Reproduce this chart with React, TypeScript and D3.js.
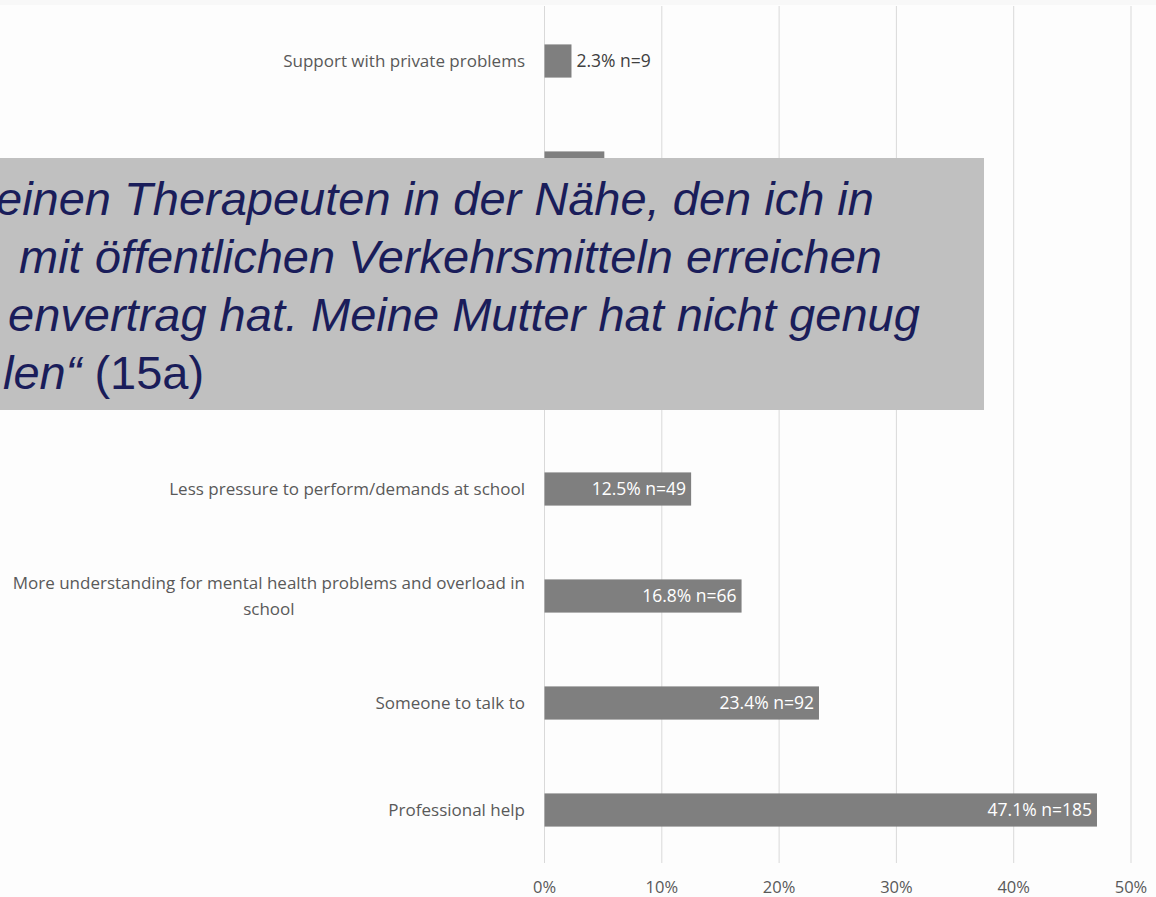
import React, { useEffect, useRef } from 'react'
import * as d3 from 'd3'

// bars, top to bottom (rows 2-4 sit behind the quote box in the picture)
const categories = [
  'Support with private problems',
  'row2',
  'row3',
  'row4',
  'Less pressure to perform/demands at school',
  'More understanding for mental health problems and overload in school',
  'Someone to talk to',
  'Professional help',
]
const labels = [
  'Support with private problems',
  '',
  '',
  '',
  'Less pressure to perform/demands at school',
  'More understanding for mental health problems and overload in school',
  'Someone to talk to',
  'Professional help',
]
const percents = [2.3, 5.1, 7.4, 9.7, 12.5, 16.8, 23.4, 47.1]
const counts = [9, 20, 29, 38, 49, 66, 92, 185]
const tickValues = [0, 10, 20, 30, 40, 50]

// the quote overlay
const quoteLines = [
  'einen Therapeuten in der Nähe, den ich in',
  'mit öffentlichen Verkehrsmitteln erreichen',
  'envertrag hat. Meine Mutter hat nicht genug',
  'len“',
]
const quoteSource = ' (15a)'
const quoteX = [-4, 19, 8, 3]

const W = 1156
const H = 897

function wrapLabel(text: string, maxChars: number) {
  const words = text.split(' ')
  const lines: string[] = []
  let cur = ''
  words.forEach(w => {
    const next = cur ? cur + ' ' + w : w
    if (next.length > maxChars && cur) {
      lines.push(cur)
      cur = w
    } else cur = next
  })
  if (cur) lines.push(cur)
  return lines
}

function Chart() {
  const ref = useRef<SVGSVGElement>(null)

  useEffect(() => {
    const svg = d3.select(ref.current)
    svg.selectAll('*').remove()

    const x = d3.scaleLinear().domain([0, 50]).range([544.5, 1131])
    const y = d3.scaleBand().domain(categories).range([7.5, 863.5]).paddingInner(0.69).paddingOuter(0.345)

    svg.append('rect').attr('width', W).attr('height', H).attr('fill', '#fdfdfd')
    svg.append('rect').attr('width', W).attr('height', 5).attr('fill', '#f8f8f8')

    // gridlines
    svg.append('g').selectAll('line').data(tickValues).join('line')
      .attr('x1', d => x(d)).attr('x2', d => x(d))
      .attr('y1', 6).attr('y2', 863)
      .attr('stroke', '#d9d9d9').attr('stroke-width', 1)

    // tick labels
    svg.append('g').selectAll('text').data(tickValues).join('text')
      .attr('x', d => x(d)).attr('y', 893)
      .attr('text-anchor', 'middle')
      .style('font-family', '"Open Sans", sans-serif')
      .style('font-size', '16.5px')
      .attr('fill', '#595959')
      .text(d => d + '%')

    // bars
    const rows = categories.map((c, i) => ({ key: c, label: labels[i], pct: percents[i], n: counts[i] }))
    svg.append('g').selectAll('rect').data(rows).join('rect')
      .attr('x', x(0))
      .attr('y', d => y(d.key)!)
      .attr('width', d => x(d.pct) - x(0))
      .attr('height', y.bandwidth())
      .attr('fill', '#7f7f7f')

    // value labels (only rows that are not hidden by the quote box)
    const shown = rows.filter(d => d.label)
    const vals = svg.append('g').selectAll('text').data(shown).join('text')
      .attr('y', d => y(d.key)! + y.bandwidth() / 2)
      .attr('dy', '0.35em')
      .style('font-family', '"Open Sans", sans-serif')
      .style('font-size', '17.5px')
      .text(d => `${d.pct.toFixed(1)}% n=${d.n}`)
    vals.each(function (d) {
      const t = d3.select(this)
      const w = (this as SVGTextElement).getComputedTextLength()
      const barW = x(d.pct) - x(0)
      if (barW > w + 12) {
        t.attr('x', x(d.pct) - 5).attr('text-anchor', 'end').attr('fill', '#ffffff')
      } else {
        t.attr('x', x(d.pct) + 5).attr('text-anchor', 'start').attr('fill', '#404040')
      }
    })

    // category labels
    const labelRight = 525
    shown.forEach(d => {
      const lines = wrapLabel(d.label, 62)
      const cy = y(d.key)! + y.bandwidth() / 2
      const lh = 26
      const g = svg.append('text')
        .style('font-family', '"Open Sans", sans-serif')
        .style('font-size', '17px')
        .attr('fill', '#595959')
      const spans = lines.map((ln, i) =>
        g.append('tspan').attr('y', cy + (i - (lines.length - 1) / 2) * lh).attr('dy', '0.35em').text(ln))
      const maxW = d3.max(spans, s => (s.node() as SVGTextContentElement).getComputedTextLength()) || 0
      if (lines.length > 1) {
        spans.forEach(s => s.attr('x', labelRight - maxW / 2).attr('text-anchor', 'middle'))
      } else {
        spans.forEach(s => s.attr('x', labelRight).attr('text-anchor', 'end'))
      }
    })

    // quote box
    svg.append('rect').attr('x', 0).attr('y', 158).attr('width', 984).attr('height', 252).attr('fill', '#c0c0c0')
    const qy = d3.scaleLinear().domain([0, 3]).range([215, 389])
    quoteLines.forEach((ln, i) => {
      const t = svg.append('text')
        .attr('x', quoteX[i]).attr('y', qy(i))
        .style('font-family', '"Liberation Sans", Arial, sans-serif')
        .style('font-size', '47px')
        .attr('fill', '#1a1d5a')
      t.append('tspan').style('font-style', 'italic').text(ln)
      if (i === quoteLines.length - 1) t.append('tspan').text(quoteSource)
    })
  }, [])

  return <svg ref={ref} width={W} height={H} style={{ position: 'absolute', left: 0, top: 0 }} />
}

export default function App() {
  return <Chart />
}
